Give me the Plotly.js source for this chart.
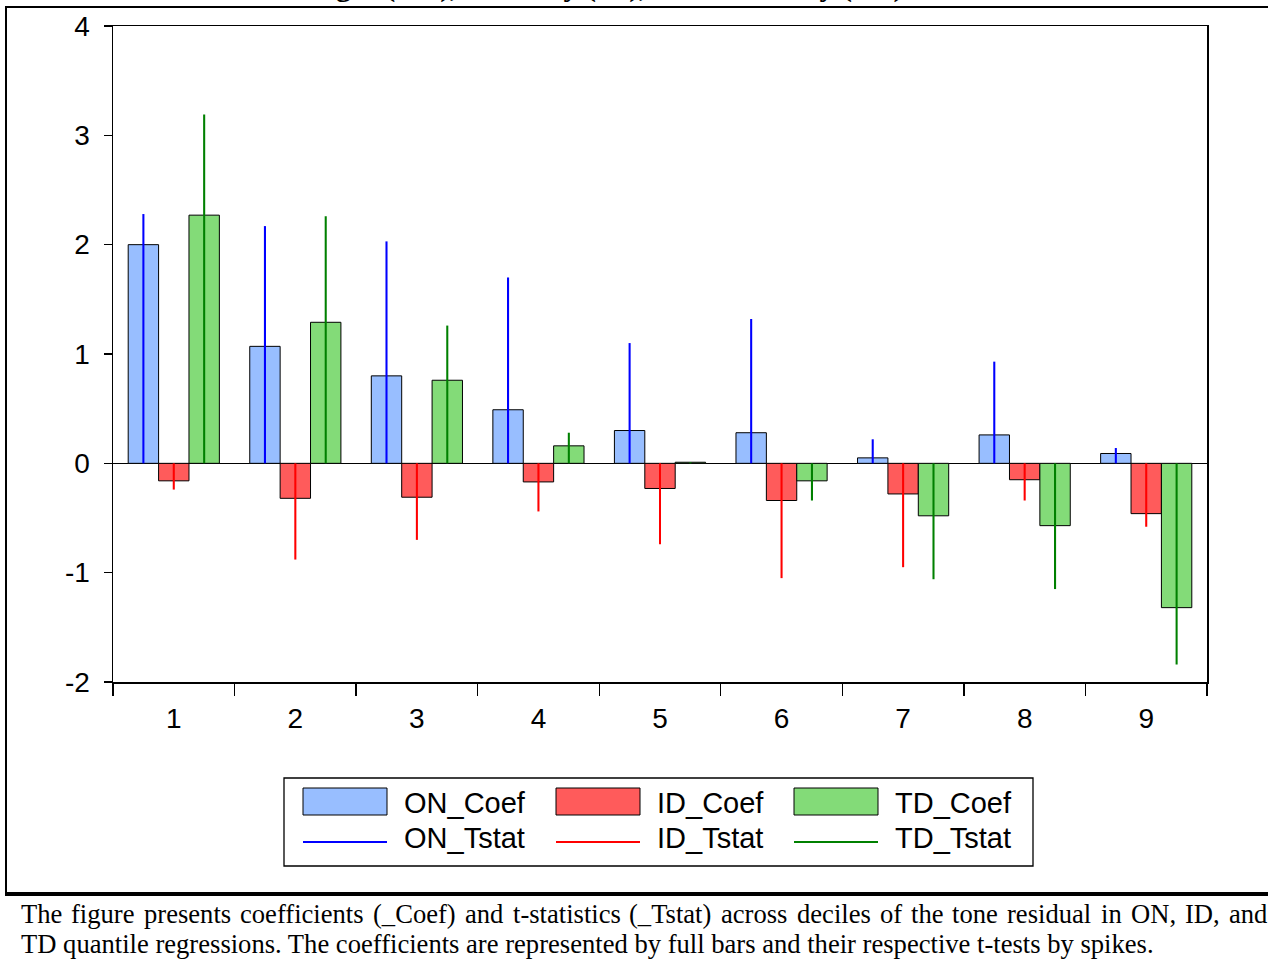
<!DOCTYPE html>
<html>
<head>
<meta charset="utf-8">
<script src="https://cdn.plot.ly/plotly-3.0.1.min.js"></script>
<style>
  html, body { margin: 0; padding: 0; background: #ffffff; }
  #chart { width: 1268px; height: 961px; }
</style>
</head>
<body>
<div id="chart"></div>
<script>
// ---------------- data ----------------
const deciles = ['1', '2', '3', '4', '5', '6', '7', '8', '9'];
const ON_Coef  = [2.00, 1.07, 0.80, 0.49, 0.30, 0.28, 0.05, 0.26, 0.09];
const ID_Coef  = [-0.16, -0.32, -0.31, -0.17, -0.23, -0.34, -0.28, -0.15, -0.46];
const TD_Coef  = [2.27, 1.29, 0.76, 0.16, 0.01, -0.16, -0.48, -0.57, -1.32];
const ON_Tstat = [2.28, 2.17, 2.03, 1.70, 1.10, 1.32, 0.22, 0.93, 0.14];
const ID_Tstat = [-0.24, -0.88, -0.70, -0.44, -0.74, -1.05, -0.95, -0.34, -0.58];
const TD_Tstat = [3.19, 2.26, 1.26, 0.28, 0.01, -0.34, -1.06, -1.15, -1.84];
const yTicks = [-2, -1, 0, 1, 2, 3, 4];

const titleText = 'Overnight (ON), Intraday (ID), and Total Day (TD)';
const caption1 = 'The figure presents coefficients (_Coef) and t-statistics (_Tstat) across deciles of the tone residual in ON, ID, and';
const caption2 = 'TD quantile regressions. The coefficients are represented by full bars and their respective t-tests by spikes.';

// ---------------- styles ----------------
const colON = '#98BEFF', colID = '#FF5B5B', colTD = '#83DB78';
const spON = '#0000FF', spID = '#FF0000', spTD = '#008000';
const sans = 'Arial, "Liberation Sans", sans-serif';
const serif = '"Liberation Serif", "Times New Roman", serif';
const capSize = 26.6;

const W = 1268, H = 961;
const mL = 113, mR = 61, mT = 26, mB = 279;
const pw = W - mL - mR, ph = H - mT - mB;
const px = x => (x - mL) / pw;          // pixel -> paper x
const py = y => (H - mB - y) / ph;      // pixel -> paper y

const barW = 0.25, spikeW = 0.017;
function coefBar(name, y, color, off) {
  return { type: 'bar', name: name, x: deciles, y: y, width: barW, offset: off,
    marker: { color: color, line: { color: '#000000', width: 1 } },
    showlegend: false, hoverinfo: 'x+y+name' };
}
function spike(name, y, color, center) {
  return { type: 'bar', name: name, x: deciles, y: y, width: spikeW, offset: center - spikeW / 2,
    marker: { color: color, line: { width: 0 } },
    showlegend: false, hoverinfo: 'x+y+name' };
}

const traces = [
  coefBar('ON_Coef', ON_Coef, colON, -0.375),
  coefBar('ID_Coef', ID_Coef, colID, -0.125),
  coefBar('TD_Coef', TD_Coef, colTD, 0.125),
  spike('ON_Tstat', ON_Tstat, spON, -0.25),
  spike('ID_Tstat', ID_Tstat, spID, 0.0),
  spike('TD_Tstat', TD_Tstat, spTD, 0.25)
];

// ---------------- custom legend ----------------
const legItems = [
  { label: 'ON_Coef', fill: colON, line: spON, tlabel: 'ON_Tstat', x0: 303 },
  { label: 'ID_Coef', fill: colID, line: spID, tlabel: 'ID_Tstat', x0: 556 },
  { label: 'TD_Coef', fill: colTD, line: spTD, tlabel: 'TD_Tstat', x0: 794 }
];
const shapes = [];
const annotations = [];

shapes.push({ type: 'rect', xref: 'paper', yref: 'paper', x0: px(284), x1: px(1033), y0: py(778), y1: py(866),
  line: { color: '#000000', width: 1.3 }, fillcolor: 'rgba(0,0,0,0)' });
legItems.forEach(it => {
  shapes.push({ type: 'rect', xref: 'paper', yref: 'paper', x0: px(it.x0), x1: px(it.x0 + 84), y0: py(788), y1: py(815),
    line: { color: '#000000', width: 1 }, fillcolor: it.fill });
  shapes.push({ type: 'line', xref: 'paper', yref: 'paper', x0: px(it.x0), x1: px(it.x0 + 84), y0: py(842), y1: py(842),
    line: { color: it.line, width: 2 } });
  annotations.push({ xref: 'paper', yref: 'paper', x: px(it.x0 + 99), y: py(803), xanchor: 'left', yanchor: 'middle',
    text: it.label, showarrow: false, font: { family: sans, size: 29, color: '#000000' } });
  annotations.push({ xref: 'paper', yref: 'paper', x: px(it.x0 + 99), y: py(838), xanchor: 'left', yanchor: 'middle',
    text: it.tlabel, showarrow: false, font: { family: sans, size: 29, color: '#000000' } });
});

// outer frame
shapes.push({ type: 'line', xref: 'paper', yref: 'paper', x0: px(5), x1: px(1270), y0: py(7), y1: py(7),
  line: { color: '#000000', width: 2 } });
shapes.push({ type: 'line', xref: 'paper', yref: 'paper', x0: px(6), x1: px(6), y0: py(6), y1: py(893),
  line: { color: '#000000', width: 2 } });
shapes.push({ type: 'line', xref: 'paper', yref: 'paper', x0: px(5), x1: px(1270), y0: py(894), y1: py(894),
  line: { color: '#000000', width: 4 } });

// clipped title at very top (only its descenders show, as in the reference)
annotations.push({ xref: 'paper', yref: 'paper', x: px(244), y: py(5), xanchor: 'left', yanchor: 'bottom',
  text: '<b>' + titleText + '</b>', showarrow: false, font: { family: serif, size: 30, color: '#000000' } });

// caption: line 1 justified word by word, line 2 left-aligned
(function () {
  const ctx = document.createElement('canvas').getContext('2d');
  ctx.font = capSize + 'px "Liberation Serif"';
  const words = caption1.split(' ');
  const widths = words.map(w => ctx.measureText(w).width);
  const left = 20, right = 1266;
  const total = widths.reduce((a, b) => a + b, 0);
  const gap = (right - left - total) / (words.length - 1);
  let x = left;
  words.forEach((w, i) => {
    annotations.push({ xref: 'paper', yref: 'paper', x: px(x - 1), y: py(914), xanchor: 'left', yanchor: 'middle',
      text: w, showarrow: false, font: { family: serif, size: capSize, color: '#000000' } });
    x += widths[i] + gap;
  });
})();
annotations.push({ xref: 'paper', yref: 'paper', x: px(19), y: py(944), xanchor: 'left', yanchor: 'middle',
  text: caption2, showarrow: false, font: { family: serif, size: capSize, color: '#000000' } });

const layout = {
  width: W, height: H,
  margin: { l: mL, r: mR, t: mT, b: mB, pad: 0 },
  paper_bgcolor: '#ffffff', plot_bgcolor: '#ffffff',
  barmode: 'overlay',
  showlegend: false,
  xaxis: {
    type: 'category', range: [-0.5, 8.5],
    tickson: 'boundaries', ticks: 'outside', ticklen: 12, tickwidth: 1.3, tickcolor: '#000000',
    showline: true, linecolor: '#000000', linewidth: 1.5, mirror: true,
    showgrid: false, zeroline: false,
    tickfont: { family: sans, size: 28, color: '#000000' },
    ticklabelstandoff: 11
  },
  yaxis: {
    range: [-2, 4], tickvals: yTicks, ticktext: yTicks.map(String),
    ticks: 'outside', ticklen: 8, tickwidth: 1.3, tickcolor: '#000000',
    showline: true, linecolor: '#000000', linewidth: 1.5, mirror: true,
    showgrid: false, zeroline: true, zerolinecolor: '#000000', zerolinewidth: 1.5,
    tickfont: { family: sans, size: 28, color: '#000000' },
    ticklabelstandoff: 8
  },
  shapes: shapes,
  annotations: annotations
};

Plotly.newPlot('chart', traces, layout, { displayModeBar: false, staticPlot: true });
</script>
</body>
</html>
